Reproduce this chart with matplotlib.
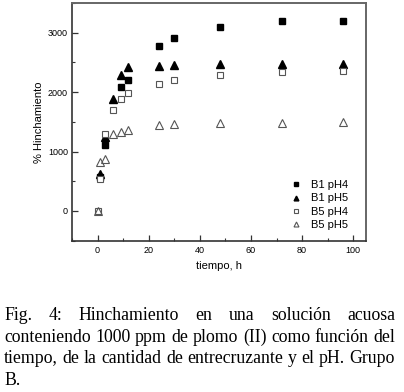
# =====================================================================
# IMPORTS
# =====================================================================
import matplotlib
matplotlib.use('Agg')
import matplotlib.pyplot as plt
from matplotlib.ticker import MultipleLocator

# =====================================================================
# DATEN
# =====================================================================
t_b1_ph4 = [1, 3, 9, 12, 24, 30, 48, 72, 96]
b1_ph4   = [570, 1110, 2090, 2210, 2770, 2910, 3100, 3190, 3190]

t_b1_ph5 = [1, 3, 6, 9, 12, 24, 30, 48, 72, 96]
b1_ph5   = [620, 1245, 1880, 2295, 2415, 2435, 2460, 2475, 2475, 2475]

t_b5     = [0, 1, 3, 6, 9, 12, 24, 30, 48, 72, 96]
b5_ph4   = [0, 540, 1300, 1700, 1880, 1990, 2140, 2210, 2295, 2335, 2360]
b5_ph5   = [0, 820, 880, 1300, 1330, 1370, 1440, 1470, 1480, 1485, 1490]

labels = ['B1 pH4', 'B1 pH5', 'B5 pH4', 'B5 pH5']

caption_lines = [
    'Fig. 4: Hinchamiento en una solución acuosa',
    'conteniendo 1000 ppm de plomo (II) como función del',
    'tiempo, de la cantidad de entrecruzante y el pH. Grupo',
    'B.',
]

# =====================================================================
# PLOT
# =====================================================================
plt.rcParams['font.family'] = ['Liberation Sans', 'DejaVu Sans']

W, H = 404, 392
fig = plt.figure(figsize=(W / 100, H / 100), dpi=100)
ax = fig.add_axes([72 / W, 1 - 240.7 / H, 294 / W, 237.7 / H])

ax.plot(t_b1_ph4, b1_ph4, ls='none', marker='s', ms=4.2, color='black', label=labels[0])
ax.plot(t_b1_ph5, b1_ph5, ls='none', marker='^', ms=5.3, color='black', label=labels[1])
ax.plot(t_b5, b5_ph4, ls='none', marker='s', ms=4.2, mfc='white', mec='#555555', mew=0.8, label=labels[2])
ax.plot(t_b5, b5_ph5, ls='none', marker='^', ms=5.5, mfc='none', mec='#555555', mew=0.8, label=labels[3])

ax.set_xlim(-10, 105)
ax.set_ylim(-500, 3500)
ax.xaxis.set_major_locator(MultipleLocator(20))
ax.xaxis.set_minor_locator(MultipleLocator(10))
ax.yaxis.set_major_locator(MultipleLocator(1000))
ax.yaxis.set_minor_locator(MultipleLocator(500))
ax.tick_params(which='both', direction='in', colors='#333333', labelcolor='black', labelsize=6.5)
ax.tick_params(which='major', length=4, width=0.9)
ax.tick_params(which='minor', length=2.5, width=0.8)
ax.tick_params(axis='x', pad=4)
ax.tick_params(axis='y', pad=3)

for side in ['left', 'bottom']:
    ax.spines[side].set_color('#333333')
    ax.spines[side].set_linewidth(1.2)
for side in ['top', 'right']:
    ax.spines[side].set_color('#666666')
    ax.spines[side].set_linewidth(1.4)

ax.set_xlabel('tiempo, h', fontsize=8, labelpad=4)
ax.set_ylabel('% Hinchamiento', fontsize=8, labelpad=3)

ax.legend(loc='lower right', bbox_to_anchor=(0.965, 0.012), frameon=False,
          fontsize=8, handlelength=1.0, handletextpad=0.8, labelspacing=0.3,
          borderpad=0.2, markerscale=0.65)

# =====================================================================
# BILDUNTERSCHRIFT (Blocksatz)
# =====================================================================
x0, x1 = 4, 395
baselines = [320, 341.7, 363.3, 385]
renderer = fig.canvas.get_renderer()

# Schriftgroesse so, dass Zeile 2 mit normalen Abstaenden die Breite fuellt
probe = fig.text(0, 0, caption_lines[1], family='Liberation Serif', fontsize=12)
cap_size = 12 * (x1 - x0) / probe.get_window_extent(renderer).width
probe.remove()
cap_font = dict(family='Liberation Serif', fontsize=cap_size, va='baseline', ha='left')

def textWidth(s):
    tx = fig.text(0, 0, s, **cap_font)
    w = tx.get_window_extent(renderer).width
    tx.remove()
    return w

space = textWidth('a b') - textWidth('ab')

for i, (line, yb) in enumerate(zip(caption_lines, baselines)):
    words = line.split()
    texts = [fig.text(0, 1 - yb / H, w, **cap_font) for w in words]
    widths = [tx.get_window_extent(renderer).width for tx in texts]
    if i == len(caption_lines) - 1 or len(words) == 1:
        gap = space
    else:
        gap = (x1 - x0 - sum(widths)) / (len(words) - 1)
    x = x0
    for tx, w in zip(texts, widths):
        tx.set_x(x / W)
        x += w + gap

fig.savefig('out.png', dpi=100)
